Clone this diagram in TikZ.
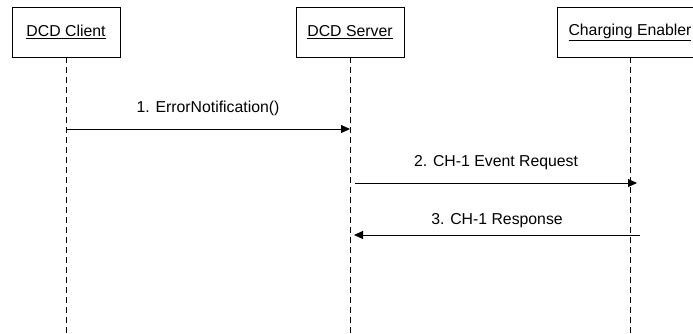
\documentclass[tikz,border=0pt]{standalone}
\usepackage{fontspec}
\setmainfont{Liberation Sans}
\usetikzlibrary{arrows.meta}

\begin{document}
\begin{tikzpicture}[x=1pt, y=-1pt,
    actor/.style={draw, line width=0.8pt, minimum width=108pt, minimum height=50pt,
        inner sep=0pt, font=\fontsize{15.8}{18}\selectfont},
    life/.style={line width=0.8pt, dash pattern=on 6pt off 4pt},
    msg/.style={line width=0.8pt, -{Triangle[length=9pt, width=8pt]}},
    lbl/.style={font=\fontsize{15.8}{18}\selectfont, inner sep=0pt, anchor=base}]
            \useasboundingbox (0,0) rectangle (693,333);

            % Nodes
            \node[actor] (client) at (66,32) {\underline{DCD Client}};
            \node[actor] (server) at (350,32) {\underline{DCD Server}};
            \node[actor, minimum width=146pt] (enabler) at (630,32) {\underline{Charging Enabler}};

            % lifeline ends
            \coordinate (client end) at (66,333);
            \coordinate (server end) at (350,333);
            \coordinate (enabler end) at (630,333);

            %lifelines
            \foreach \i in {client,server,enabler} {
                \draw[life] (\i.south) -- (\i\space end);
            }

            % message points
            \coordinate (m1a) at (66,129);
            \coordinate (m1b) at (350,129);
            \coordinate (m2a) at (355,183);
            \coordinate (m2b) at (637,183);
            \coordinate (m3a) at (640,235);
            \coordinate (m3b) at (354,235);

            % Edges
            \draw[msg] (m1a) -- (m1b) node[lbl, midway, yshift=16.5pt] (t1) {1. ErrorNotification()};
            \draw[msg] (m2a) -- (m2b) node[lbl, midway, yshift=16.5pt] (t2) {2. CH-1 Event Request};
            \draw[msg] (m3a) -- (m3b) node[lbl, midway, yshift=11pt] (t3) {3. CH-1 Response};
        \end{tikzpicture}
\end{document}
